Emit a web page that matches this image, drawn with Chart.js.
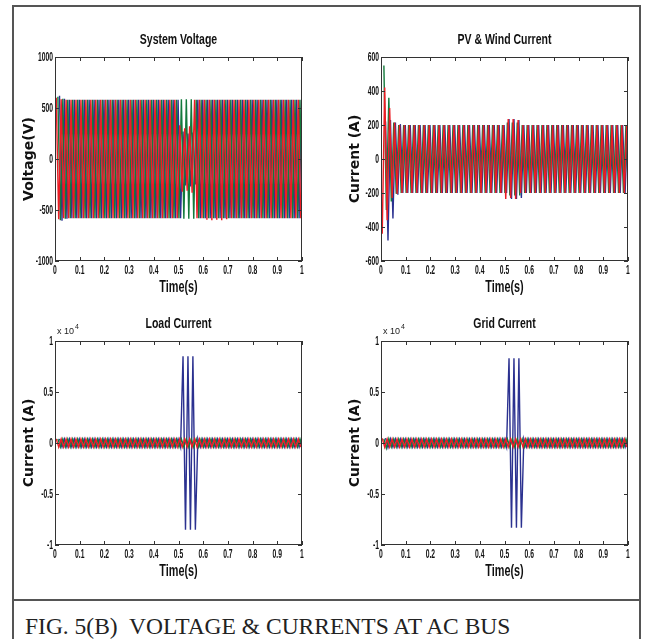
<!DOCTYPE html>
<html>
<head>
<meta charset="utf-8">
<script src="https://cdn.jsdelivr.net/npm/chart.js"></script>
<style>
  html, body { margin: 0; padding: 0; background: #fff; }
  #page { position: relative; width: 648px; height: 639px; overflow: hidden; }
  #frame { position: absolute; left: 12px; top: 5px; width: 629px; height: 645px; border: 2px solid #555; box-sizing: border-box; }
  #capLine { position: absolute; left: 12px; top: 599px; width: 629px; height: 2px; background: #555; }
  #caption { position: absolute; left: 25px; top: 613px; font: 23.5px 'Liberation Serif', serif; color: #222; white-space: pre; }
  canvas { position: absolute; }
</style>
</head>
<body>
<div id="page">
  <div id="frame"></div>
  <div id="capLine"></div>
  <div id="caption">FIG. 5(B)  VOLTAGE &amp; CURRENTS AT AC BUS</div>
  <canvas id="cVolt" width="300" height="277" style="left:13px;top:20px"></canvas>
  <canvas id="cPv" width="300" height="277" style="left:339px;top:20px"></canvas>
  <canvas id="cLoad" width="300" height="277" style="left:13px;top:304px"></canvas>
  <canvas id="cGrid" width="300" height="277" style="left:339px;top:304px"></canvas>
</div>
<script>
// time of each half-cycle peak (50 Hz), phase a
const peakTimes = [
  0.005,0.015,0.025,0.035,0.045,0.055,0.065,0.075,0.085,0.095,
  0.105,0.115,0.125,0.135,0.145,0.155,0.165,0.175,0.185,0.195,
  0.205,0.215,0.225,0.235,0.245,0.255,0.265,0.275,0.285,0.295,
  0.305,0.315,0.325,0.335,0.345,0.355,0.365,0.375,0.385,0.395,
  0.405,0.415,0.425,0.435,0.445,0.455,0.465,0.475,0.485,0.495,
  0.505,0.515,0.525,0.535,0.545,0.555,0.565,0.575,0.585,0.595,
  0.605,0.615,0.625,0.635,0.645,0.655,0.665,0.675,0.685,0.695,
  0.705,0.715,0.725,0.735,0.745,0.755,0.765,0.775,0.785,0.795,
  0.805,0.815,0.825,0.835,0.845,0.855,0.865,0.875,0.885,0.895,
  0.905,0.915,0.925,0.935,0.945,0.955,0.965,0.975,0.985,0.995
];
// shift of the red, green, blue phases (s)
const phaseLag = [0, 0.0067, 0.0133];

// System voltage peaks (V)
const voltRed = [
  600,-590,585,-580,580,-580,580,-580,580,-580,
  580,-580,580,-580,580,-580,580,-580,580,-580,
  580,-580,580,-580,580,-580,580,-580,580,-580,
  580,-580,580,-580,580,-580,580,-580,580,-580,
  580,-580,580,-580,580,-580,580,-580,580,-580,
  330,-320,300,-310,320,-330,580,-580,580,-580,
  580,-595,580,-600,580,-595,580,-600,580,-590,
  580,-580,580,-580,580,-580,580,-580,580,-580,
  580,-580,580,-580,580,-580,580,-580,580,-580,
  580,-580,580,-580,580,-580,580,-580,580,-580
];
const voltGreen = [
  610,-600,590,-585,580,-580,580,-580,580,-580,
  580,-580,580,-580,580,-580,580,-580,580,-580,
  580,-580,580,-580,580,-580,580,-580,580,-580,
  580,-580,580,-580,580,-580,580,-580,580,-580,
  580,-580,580,-580,580,-580,580,-580,580,-580,
  585,-585,585,-585,585,-585,580,-580,580,-580,
  580,-580,580,-580,580,-580,580,-580,580,-580,
  580,-580,580,-580,580,-580,580,-580,580,-580,
  580,-580,580,-580,580,-580,580,-580,580,-580,
  580,-580,580,-580,580,-580,580,-580,580,-580
];
const voltBlue = [
  620,-605,590,-585,580,-580,580,-580,580,-580,
  580,-580,580,-580,580,-580,580,-580,580,-580,
  580,-580,580,-580,580,-580,580,-580,580,-580,
  580,-580,580,-580,580,-580,580,-580,580,-580,
  580,-580,580,-580,580,-580,580,-580,580,-580,
  270,-260,250,-270,260,-250,580,-580,580,-580,
  580,-580,580,-580,580,-580,580,-580,580,-580,
  580,-580,580,-580,580,-580,580,-580,580,-580,
  580,-580,580,-580,580,-580,580,-580,580,-580,
  580,-580,580,-580,580,-580,580,-580,580,-580
];

// PV & wind current peaks (A)
const pvRed = [
  -440,420,-360,300,-230,215,-205,200,-200,200,
  -200,200,-200,200,-200,200,-200,200,-200,200,
  -200,200,-200,200,-200,200,-200,200,-200,200,
  -200,200,-200,200,-200,200,-200,200,-200,200,
  -200,200,-200,200,-200,200,-200,200,-200,200,
  -235,235,-230,235,-235,230,-200,200,-200,200,
  -200,200,-200,200,-200,200,-200,200,-200,200,
  -200,200,-200,200,-200,200,-200,200,-200,200,
  -200,200,-200,200,-200,200,-200,200,-200,200,
  -200,200,-200,200,-200,200,-200,200,-200,200
];
const pvGreen = [
  550,-300,360,-250,215,-205,200,-200,200,-200,
  200,-200,200,-200,200,-200,200,-200,200,-200,
  200,-200,200,-200,200,-200,200,-200,200,-200,
  200,-200,200,-200,200,-200,200,-200,200,-200,
  200,-200,200,-200,200,-200,200,-200,200,-200,
  215,-215,215,-215,215,-215,200,-200,200,-200,
  200,-200,200,-200,200,-200,200,-200,200,-200,
  200,-200,200,-200,200,-200,200,-200,200,-200,
  200,-200,200,-200,200,-200,200,-200,200,-200,
  200,-200,200,-200,200,-200,200,-200,200,-200
];
const pvBlue = [
  220,-480,230,-350,215,-210,205,-200,200,-200,
  200,-200,200,-200,200,-200,200,-200,200,-200,
  200,-200,200,-200,200,-200,200,-200,200,-200,
  200,-200,200,-200,200,-200,200,-200,200,-200,
  200,-200,200,-200,200,-200,200,-200,200,-200,
  235,-235,235,-235,230,-230,200,-200,200,-200,
  200,-200,200,-200,200,-200,200,-200,200,-200,
  200,-200,200,-200,200,-200,200,-200,200,-200,
  200,-200,200,-200,200,-200,200,-200,200,-200,
  200,-200,200,-200,200,-200,200,-200,200,-200
];

// Load current peaks (A)
const loadRed = [
  400,-400,400,-400,400,-400,400,-400,400,-400,
  400,-400,400,-400,400,-400,400,-400,400,-400,
  400,-400,400,-400,400,-400,400,-400,400,-400,
  400,-400,400,-400,400,-400,400,-400,400,-400,
  400,-400,400,-400,400,-400,400,-400,400,-400,
  400,-400,400,-400,400,-400,400,-400,400,-400,
  400,-400,400,-400,400,-400,400,-400,400,-400,
  400,-400,400,-400,400,-400,400,-400,400,-400,
  400,-400,400,-400,400,-400,400,-400,400,-400,
  400,-400,400,-400,400,-400,400,-400,400,-400
];
const loadGreen = [
  400,-400,400,-400,400,-400,400,-400,400,-400,
  400,-400,400,-400,400,-400,400,-400,400,-400,
  400,-400,400,-400,400,-400,400,-400,400,-400,
  400,-400,400,-400,400,-400,400,-400,400,-400,
  400,-400,400,-400,400,-400,400,-400,400,-400,
  400,-400,400,-400,400,-400,400,-400,400,-400,
  400,-400,400,-400,400,-400,400,-400,400,-400,
  400,-400,400,-400,400,-400,400,-400,400,-400,
  400,-400,400,-400,400,-400,400,-400,400,-400,
  400,-400,400,-400,400,-400,400,-400,400,-400
];
const loadBlue = [
  400,-400,400,-400,400,-400,400,-400,400,-400,
  400,-400,400,-400,400,-400,400,-400,400,-400,
  400,-400,400,-400,400,-400,400,-400,400,-400,
  400,-400,400,-400,400,-400,400,-400,400,-400,
  400,-400,400,-400,400,-400,400,-400,400,-400,
  8500,-8500,8500,-8500,8500,-8500,400,-400,400,-400,
  400,-400,400,-400,400,-400,400,-400,400,-400,
  400,-400,400,-400,400,-400,400,-400,400,-400,
  400,-400,400,-400,400,-400,400,-400,400,-400,
  400,-400,400,-400,400,-400,400,-400,400,-400
];

// Grid current peaks (A)
const gridRed = [
  450,-420,400,-400,400,-400,400,-400,400,-400,
  400,-400,400,-400,400,-400,400,-400,400,-400,
  400,-400,400,-400,400,-400,400,-400,400,-400,
  400,-400,400,-400,400,-400,400,-400,400,-400,
  400,-400,400,-400,400,-400,400,-400,400,-400,
  400,-400,400,-400,400,-400,400,-400,400,-400,
  400,-400,400,-400,400,-400,400,-400,400,-400,
  400,-400,400,-400,400,-400,400,-400,400,-400,
  400,-400,400,-400,400,-400,400,-400,400,-400,
  400,-400,400,-400,400,-400,400,-400,400,-400
];
const gridGreen = [
  420,-520,430,-400,400,-400,400,-400,400,-400,
  400,-400,400,-400,400,-400,400,-400,400,-400,
  400,-400,400,-400,400,-400,400,-400,400,-400,
  400,-400,400,-400,400,-400,400,-400,400,-400,
  400,-400,400,-400,400,-400,400,-400,400,-400,
  400,-400,400,-400,400,-400,400,-400,400,-400,
  400,-400,400,-400,400,-400,400,-400,400,-400,
  400,-400,400,-400,400,-400,400,-400,400,-400,
  400,-400,400,-400,400,-400,400,-400,400,-400,
  400,-400,400,-400,400,-400,400,-400,400,-400
];
const gridBlue = [
  480,-450,420,-400,400,-400,400,-400,400,-400,
  400,-400,400,-400,400,-400,400,-400,400,-400,
  400,-400,400,-400,400,-400,400,-400,400,-400,
  400,-400,400,-400,400,-400,400,-400,400,-400,
  400,-400,400,-400,400,-400,400,-400,400,-400,
  8300,-8300,8300,-8300,8300,-8300,400,-400,400,-400,
  400,-400,400,-400,400,-400,400,-400,400,-400,
  400,-400,400,-400,400,-400,400,-400,400,-400,
  400,-400,400,-400,400,-400,400,-400,400,-400,
  400,-400,400,-400,400,-400,400,-400,400,-400
];

const phaseColors = ['#ec1c24', '#137a3c', '#2b3190'];
const sans = "'Liberation Sans', Arial, sans-serif";
const TICK_SQUEEZE = 0.52;
const TITLE_SQUEEZE = 0.7;
const XTITLE_SQUEEZE = 0.68;

// linear scale whose labels are drawn horizontally squeezed (MATLAB narrow look)
class MatlabScale extends Chart.LinearScale {
  drawLabels(chartArea) {
    const ctx = this.ctx;
    const items = this.getLabelItems(chartArea);
    for (const item of items) {
      const o = item.options;
      ctx.save();
      ctx.font = item.font.string;
      ctx.fillStyle = o.color;
      ctx.textAlign = o.textAlign;
      ctx.textBaseline = o.textBaseline;
      ctx.translate(o.translation[0], o.translation[1]);
      if (o.rotation) ctx.rotate(o.rotation);
      ctx.scale(TICK_SQUEEZE, 1);
      ctx.fillText(item.label, 0, item.textOffset || 0);
      ctx.restore();
    }
  }
  drawTitle() {
    if (!this.isHorizontal()) return super.drawTitle();
    const ctx = this.ctx;
    ctx.save();
    ctx.font = 'bold 16px ' + sans;
    ctx.fillStyle = '#111';
    ctx.textAlign = 'center';
    ctx.textBaseline = 'middle';
    ctx.translate((this.left + this.right) / 2, this.bottom - 9);
    ctx.scale(XTITLE_SQUEEZE, 1);
    ctx.fillText(this.options.title.text, 0, 0);
    ctx.restore();
  }
}
MatlabScale.id = 'matlab';
MatlabScale.defaults = Chart.LinearScale.defaults;
Chart.register(MatlabScale);

// box with inward ticks on all four sides, plot title and the x10^n note
const matlabFrame = {
  id: 'matlabFrame',
  afterDatasetsDraw(chart, args, opts) {
    const {ctx, chartArea: a, scales: {x, y}} = chart;
    ctx.save();
    ctx.strokeStyle = '#333';
    ctx.lineWidth = 1;
    ctx.strokeRect(a.left + 0.5, a.top + 0.5, a.right - a.left - 1, a.bottom - a.top - 1);
    ctx.beginPath();
    x.ticks.forEach(t => {
      const px = Math.round(x.getPixelForValue(t.value)) + 0.5;
      ctx.moveTo(px, a.bottom); ctx.lineTo(px, a.bottom - 4);
      ctx.moveTo(px, a.top); ctx.lineTo(px, a.top + 4);
    });
    y.ticks.forEach(t => {
      const py = Math.round(y.getPixelForValue(t.value)) + 0.5;
      ctx.moveTo(a.left, py); ctx.lineTo(a.left + 4, py);
      ctx.moveTo(a.right, py); ctx.lineTo(a.right - 4, py);
    });
    ctx.stroke();

    ctx.fillStyle = '#111';
    ctx.textAlign = 'center';
    ctx.textBaseline = 'middle';
    ctx.font = 'bold 15px ' + sans;
    ctx.save();
    ctx.translate((a.left + a.right) / 2, a.top - 17);
    ctx.scale(TITLE_SQUEEZE, 1);
    ctx.fillText(opts.title, 0, 0);
    ctx.restore();

    if (opts.exponent) {
      ctx.textAlign = 'left';
      ctx.textBaseline = 'alphabetic';
      ctx.fillStyle = '#222';
      ctx.font = '9px ' + sans;
      ctx.fillText('x 10', a.left + 2, a.top - 7);
      const w = ctx.measureText('x 10').width;
      ctx.font = '7px ' + sans;
      ctx.fillText(opts.exponent, a.left + 3 + w, a.top - 12);
    }
    ctx.restore();
  }
};
Chart.register(matlabFrame);

function makeChart(id, title, yTitle, yMin, yMax, yStep, yLabel, phases, exponent) {
  const datasets = phases.map((peaks, i) => ({
    data: peaks.map((v, k) => ({x: peakTimes[k] + phaseLag[i], y: v})),
    borderColor: phaseColors[i],
    borderWidth: 1.4,
    pointRadius: 0,
    tension: 0
  }));
  const tickFont = {family: sans, size: 13, weight: 'bold', lineHeight: 1.2};
  return new Chart(document.getElementById(id), {
    type: 'line',
    data: {datasets: datasets},
    options: {
      responsive: false,
      animation: false,
      devicePixelRatio: 1,
      layout: {padding: {top: 37, right: 11, bottom: 0, left: 0}},
      plugins: {
        legend: {display: false},
        tooltip: {enabled: false},
        title: {display: false},
        matlabFrame: {title: title, exponent: exponent}
      },
      scales: {
        x: {
          type: 'matlab', min: 0, max: 1,
          grid: {display: false, drawTicks: false},
          border: {display: false},
          ticks: {stepSize: 0.1, padding: 2, color: '#111', maxRotation: 0, font: tickFont,
                  callback: v => String(Math.round(v * 10) / 10)},
          title: {display: true, text: 'Time(s)'},
          afterFit: s => { s.height = 36; }
        },
        y: {
          type: 'matlab', min: yMin, max: yMax,
          grid: {display: false, drawTicks: false},
          border: {display: false},
          ticks: {stepSize: yStep, padding: 2, color: '#111', callback: yLabel, font: tickFont},
          title: {display: true, text: yTitle, color: '#111',
                  font: {family: "'DejaVu Sans', sans-serif", size: 14, weight: 'bold', lineHeight: 1.2},
                  padding: {top: 8, bottom: 0}},
          afterFit: s => { s.width = 42; }
        }
      }
    }
  });
}

const plainLabel = v => String(v);
const e4Label = v => String(v / 10000);

makeChart('cVolt', 'System Voltage', 'Voltage(V)', -1000, 1000, 500, plainLabel,
  [voltRed, voltGreen, voltBlue], null);
makeChart('cPv', 'PV & Wind Current', 'Current (A)', -600, 600, 200, plainLabel,
  [pvRed, pvGreen, pvBlue], null);
makeChart('cLoad', 'Load Current', 'Current (A)', -10000, 10000, 5000, e4Label,
  [loadRed, loadGreen, loadBlue], '4');
makeChart('cGrid', 'Grid Current', 'Current (A)', -10000, 10000, 5000, e4Label,
  [gridRed, gridGreen, gridBlue], '4');
</script>
</body>
</html>
